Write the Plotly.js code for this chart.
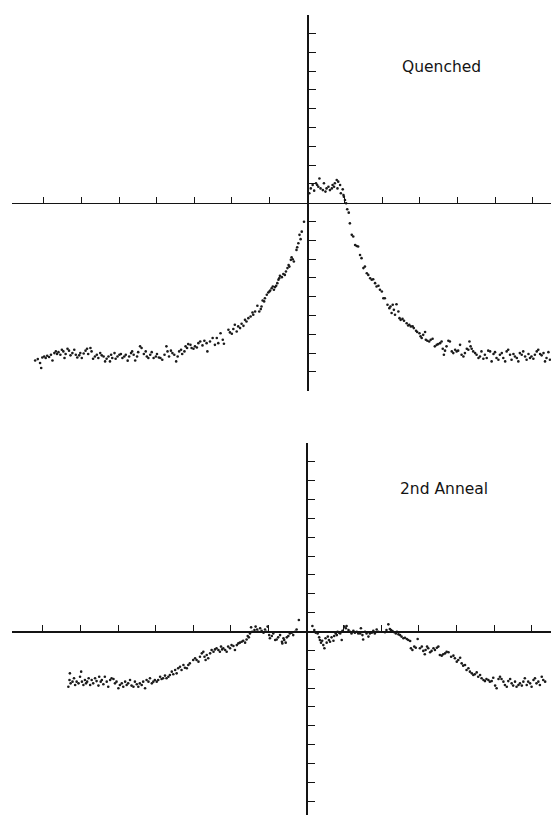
<!DOCTYPE html>
<html><head><meta charset="utf-8">
<script src="https://cdn.plot.ly/plotly-3.0.1.min.js"></script>
<style>html,body{margin:0;padding:0;background:#fff}#chart{width:551px;height:815px}</style>
</head><body><div id="chart"></div>
<script>
// Values in axis-tick units (no numeric labels on the original axes)
const quenchedPoints = [
[-7.23,-8.39],[-7.16,-8.32],[-7.10,-8.53],[-7.07,-8.79],[-7.04,-8.23],[-6.99,-8.18],[-6.95,-8.26],[-6.91,-8.14],[-6.86,-8.21],[-6.81,-8.09],
[-6.77,-8.39],[-6.72,-8.00],[-6.68,-7.91],[-6.65,-8.05],[-6.61,-7.95],[-6.56,-8.09],[-6.52,-7.82],[-6.48,-7.91],[-6.45,-8.26],[-6.42,-8.05],
[-6.37,-7.77],[-6.33,-7.87],[-6.29,-8.12],[-6.24,-8.00],[-6.19,-7.82],[-6.15,-8.09],[-6.11,-8.23],[-6.06,-8.12],[-6.03,-8.00],[-5.99,-8.26],
[-5.94,-8.02],[-5.89,-7.87],[-5.85,-7.77],[-5.82,-8.05],[-5.76,-7.73],[-5.73,-7.91],[-5.69,-8.30],[-5.64,-8.18],[-5.59,-8.09],[-5.55,-8.26],
[-5.50,-8.00],[-5.46,-8.12],[-5.41,-8.18],[-5.37,-8.44],[-5.33,-8.30],[-5.28,-8.18],[-5.24,-8.44],[-5.21,-8.09],[-5.18,-8.26],[-5.12,-8.00],
[-5.09,-8.30],[-5.04,-8.18],[-4.99,-8.09],[-4.95,-8.05],[-4.91,-8.26],[-4.86,-8.18],[-4.82,-8.09],[-4.77,-8.40],[-4.73,-8.18],[-4.68,-8.00],
[-4.65,-7.91],[-4.61,-8.09],[-4.57,-8.39],[-4.52,-8.18],[-4.49,-7.95],[-4.44,-7.64],[-4.40,-7.73],[-4.34,-8.05],[-4.29,-7.91],[-4.26,-8.18],
[-4.22,-8.26],[-4.17,-8.09],[-4.13,-7.95],[-4.08,-8.26],[-4.02,-8.18],[-3.99,-8.05],[-3.94,-8.23],[-3.90,-8.26],[-3.85,-8.35],[-3.79,-8.09],
[-3.74,-7.64],[-3.71,-7.91],[-3.67,-8.18],[-3.62,-7.87],[-3.58,-8.00],[-3.53,-8.09],[-3.48,-8.44],[-3.44,-8.18],[-3.40,-7.91],[-3.35,-7.82],
[-3.32,-8.05],[-3.26,-7.91],[-3.23,-7.64],[-3.19,-7.73],[-3.16,-7.52],[-3.10,-7.56],[-3.07,-7.73],[-3.02,-7.77],[-2.98,-7.64],[-2.93,-7.70],
[-2.89,-7.47],[-2.84,-7.38],[-2.78,-7.59],[-2.73,-7.34],[-2.67,-7.47],[-2.65,-7.91],[-2.58,-7.38],[-2.51,-7.20],[-2.45,-7.56],[-2.40,-7.20],
[-2.36,-7.47],[-2.30,-6.94],[-2.24,-7.29],[-2.21,-7.50],[-2.09,-6.76],[-2.05,-6.90],[-2.00,-6.97],[-1.96,-6.72],[-1.92,-6.49],[-1.87,-6.85],
[-1.83,-6.58],[-1.78,-6.67],[-1.74,-6.44],[-1.69,-6.55],[-1.65,-6.23],[-1.61,-6.32],[-1.56,-6.14],[-1.50,-6.05],[-1.45,-5.84],[-1.43,-5.96],
[-1.38,-5.79],[-1.32,-5.48],[-1.27,-5.79],[-1.23,-5.66],[-1.21,-5.52],[-1.18,-5.20],[-1.14,-5.25],[-1.12,-5.08],[-1.07,-4.90],[-1.03,-4.78],
[-1.00,-4.72],[-0.98,-4.67],[-0.94,-4.55],[-0.91,-4.46],[-0.88,-4.63],[-0.85,-4.49],[-0.82,-4.42],[-0.79,-4.28],[-0.76,-4.10],[-0.74,-4.02],
[-0.72,-3.89],[-0.67,-3.96],[-0.63,-3.79],[-0.59,-3.84],[-0.56,-3.66],[-0.52,-3.48],[-0.49,-3.31],[-0.47,-3.40],[-0.43,-3.04],[-0.41,-2.90],
[-0.38,-3.01],[-0.35,-3.13],[-0.28,-2.51],[-0.26,-2.37],[-0.23,-2.16],[-0.20,-1.71],[-0.17,-1.94],[-0.14,-1.54],[-0.08,-1.01],
[0.06,0.50],[0.10,0.76],[0.15,0.94],[0.19,0.64],[0.24,1.03],[0.27,0.94],[0.30,0.85],[0.33,1.29],[0.36,0.76],[0.42,0.67],
[0.45,1.03],[0.49,0.59],[0.52,0.76],[0.57,0.85],[0.61,0.67],[0.66,0.76],[0.68,0.94],[0.72,0.85],[0.74,1.03],[0.79,1.21],
[0.81,0.76],[0.83,1.12],[0.88,0.94],[0.90,0.50],[0.95,0.71],[0.97,0.41],[0.98,0.32],[1.01,0.14],[1.04,-0.03],[1.07,-0.35],
[1.11,-0.53],[1.14,-1.10],[1.19,-1.71],[1.23,-1.80],[1.28,-2.25],[1.32,-2.30],[1.36,-2.33],[1.41,-2.78],[1.45,-2.95],[1.50,-3.48],
[1.54,-3.40],[1.59,-3.75],[1.63,-3.84],[1.68,-4.02],[1.72,-4.10],[1.76,-4.07],[1.81,-4.28],[1.85,-4.46],[1.90,-4.42],[1.94,-4.63],
[1.99,-4.72],[2.03,-5.08],[2.07,-5.08],[2.14,-5.43],[2.19,-5.61],[2.22,-5.52],[2.25,-5.87],[2.28,-5.43],[2.31,-5.70],[2.34,-5.96],
[2.38,-5.40],[2.43,-5.79],[2.46,-6.14],[2.49,-6.23],[2.54,-6.18],[2.58,-6.28],[2.65,-6.41],[2.69,-6.53],[2.72,-6.49],[2.76,-6.58],
[2.81,-6.58],[2.84,-6.67],[2.90,-6.81],[2.93,-6.88],[2.99,-6.94],[3.02,-7.11],[3.05,-7.20],[3.09,-7.03],[3.14,-6.88],[3.16,-7.29],
[3.20,-7.34],[3.25,-7.38],[3.29,-7.29],[3.34,-7.24],[3.40,-7.64],[3.45,-7.56],[3.49,-7.52],[3.54,-7.47],[3.58,-7.38],[3.61,-7.77],
[3.64,-8.09],[3.67,-7.87],[3.71,-7.64],[3.76,-7.34],[3.80,-7.38],[3.85,-7.91],[3.89,-8.00],[3.94,-7.82],[3.98,-7.91],[4.02,-7.87],
[4.07,-7.56],[4.11,-8.09],[4.16,-8.18],[4.20,-8.00],[4.25,-7.77],[4.29,-7.82],[4.32,-7.38],[4.35,-7.64],[4.38,-7.77],[4.42,-7.91],
[4.47,-8.00],[4.51,-8.09],[4.56,-8.26],[4.60,-8.18],[4.64,-7.91],[4.69,-8.30],[4.73,-8.09],[4.78,-8.26],[4.82,-7.87],[4.87,-7.91],
[4.91,-8.44],[4.96,-8.05],[5.00,-7.95],[5.04,-8.26],[5.09,-8.35],[5.13,-8.09],[5.18,-8.00],[5.22,-8.26],[5.27,-8.44],[5.31,-7.91],
[5.35,-7.82],[5.40,-8.09],[5.44,-8.35],[5.49,-8.05],[5.53,-8.18],[5.58,-8.26],[5.62,-8.44],[5.66,-8.00],[5.71,-8.09],[5.75,-7.91],
[5.80,-8.18],[5.84,-8.35],[5.89,-8.05],[5.93,-8.26],[5.97,-8.18],[6.02,-8.30],[6.06,-8.09],[6.11,-7.91],[6.15,-7.82],[6.20,-8.05],
[6.24,-8.12],[6.29,-8.00],[6.33,-8.44],[6.37,-8.26],[6.42,-7.95],[6.46,-8.35]
];

const annealPoints = [
[-6.32,-2.93],[-6.29,-2.57],[-6.28,-2.22],[-6.26,-2.75],[-6.21,-2.66],[-6.17,-2.48],[-6.14,-2.84],[-6.10,-2.66],[-6.05,-2.75],[-6.01,-2.40],
[-5.98,-2.13],[-5.96,-2.66],[-5.92,-2.84],[-5.88,-2.57],[-5.85,-2.75],[-5.82,-2.66],[-5.78,-2.48],[-5.74,-2.84],[-5.70,-2.57],[-5.66,-2.75],
[-5.61,-2.48],[-5.57,-2.63],[-5.52,-2.87],[-5.50,-2.40],[-5.46,-2.66],[-5.43,-2.57],[-5.39,-2.80],[-5.35,-2.40],[-5.30,-2.66],[-5.26,-2.93],
[-5.21,-2.57],[-5.17,-2.48],[-5.12,-2.52],[-5.08,-2.75],[-5.04,-2.66],[-4.99,-3.01],[-4.95,-2.84],[-4.90,-2.75],[-4.86,-2.93],[-4.81,-2.66],
[-4.77,-2.84],[-4.73,-2.75],[-4.68,-2.57],[-4.64,-2.87],[-4.59,-2.93],[-4.55,-2.66],[-4.50,-2.80],[-4.46,-2.93],[-4.42,-2.75],[-4.37,-2.84],
[-4.33,-2.66],[-4.28,-3.01],[-4.24,-2.57],[-4.19,-2.66],[-4.15,-2.48],[-4.10,-2.75],[-4.06,-2.66],[-4.02,-2.57],[-3.97,-2.66],[-3.93,-2.57],
[-3.88,-2.40],[-3.84,-2.52],[-3.80,-2.48],[-3.75,-2.34],[-3.71,-2.48],[-3.66,-2.40],[-3.62,-2.31],[-3.57,-2.13],[-3.53,-2.27],[-3.48,-2.04],
[-3.44,-2.22],[-3.40,-1.95],[-3.35,-1.87],[-3.31,-2.04],[-3.26,-1.78],[-3.22,-1.92],[-3.17,-1.95],[-3.13,-1.78],[-3.09,-1.69],[-3.00,-1.51],
[-2.95,-1.42],[-2.91,-1.51],[-2.86,-1.60],[-2.82,-1.34],[-2.77,-1.16],[-2.73,-1.07],[-2.70,-1.34],[-2.67,-1.51],[-2.64,-1.25],[-2.60,-1.42],
[-2.55,-1.16],[-2.51,-0.98],[-2.46,-1.07],[-2.42,-0.95],[-2.38,-0.89],[-2.33,-0.98],[-2.29,-1.07],[-2.26,-0.80],[-2.23,-0.95],[-2.20,-0.89],
[-2.15,-0.98],[-2.11,-1.07],[-2.07,-0.80],[-2.02,-0.89],[-1.98,-0.72],[-1.93,-0.77],[-1.89,-0.98],[-1.84,-0.72],[-1.80,-0.63],[-1.76,-0.59],
[-1.71,-0.54],[-1.67,-0.49],[-1.62,-0.59],[-1.58,-0.42],[-1.55,-0.24],[-1.52,-0.31],[-1.49,-0.10],[-1.46,0.22],[-1.43,-0.01],[-1.37,0.08],
[-1.34,0.26],[-1.30,0.11],[-1.27,-0.01],[-1.22,0.17],[-1.18,0.04],[-1.13,-0.06],[-1.09,0.11],[-1.05,-0.01],[-1.02,0.26],[-0.98,-0.19],
[-0.96,-0.36],[-0.91,-0.24],[-0.87,-0.10],[-0.82,-0.45],[-0.78,-0.42],[-0.74,-0.31],[-0.69,-0.19],[-0.64,-0.54],[-0.63,-0.63],[-0.60,-0.36],
[-0.58,-0.45],[-0.54,-0.59],[-0.51,-0.31],[-0.47,-0.24],[-0.43,-0.10],[-0.38,-0.06],[-0.34,-0.19],[-0.29,-0.01],[-0.25,0.11],[-0.19,0.61],
[0.17,0.29],[0.22,0.08],[0.26,-0.06],[0.31,-0.10],[0.35,-0.31],[0.37,-0.45],[0.40,-0.59],[0.43,-0.49],[0.46,-0.72],[0.49,-0.89],
[0.52,-0.36],[0.55,-0.59],[0.58,-0.27],[0.61,-0.45],[0.64,-0.54],[0.68,-0.31],[0.73,-0.49],[0.75,-0.24],[0.79,-0.10],[0.82,-0.19],
[0.84,-0.01],[0.88,-0.06],[0.91,-0.10],[0.95,-0.45],[0.97,0.04],[1.02,0.26],[1.06,0.17],[1.08,0.29],[1.13,0.08],[1.17,-0.01],
[1.21,-0.10],[1.26,0.04],[1.30,-0.06],[1.35,-0.01],[1.39,-0.10],[1.44,-0.10],[1.46,0.17],[1.50,-0.19],[1.52,-0.42],[1.57,-0.01],
[1.61,-0.10],[1.66,-0.27],[1.70,-0.10],[1.75,-0.06],[1.79,0.04],[1.83,-0.10],[1.88,0.11],[1.92,-0.01],[2.10,-0.04],[2.14,0.08],
[2.19,0.38],[2.23,0.13],[2.26,0.08],[2.30,0.03],[2.35,-0.04],[2.39,-0.10],[2.42,-0.01],[2.46,-0.15],[2.50,-0.19],[2.54,-0.27],
[2.59,-0.36],[2.63,-0.33],[2.68,-0.40],[2.72,-0.45],[2.77,-0.50],[2.79,-0.89],[2.83,-0.98],[2.88,-0.80],[2.92,-0.86],[2.97,-0.40],
[3.03,-0.89],[3.08,-0.80],[3.12,-1.03],[3.16,-1.21],[3.18,-0.98],[3.22,-0.80],[3.25,-0.89],[3.30,-1.10],[3.34,-1.03],[3.39,-0.89],
[3.43,-0.98],[3.48,-0.86],[3.52,-0.80],[3.56,-1.25],[3.61,-1.28],[3.65,-1.21],[3.70,-1.16],[3.74,-1.07],[3.79,-1.10],[3.86,-1.34],
[3.92,-1.28],[3.96,-1.42],[4.01,-1.60],[4.05,-1.51],[4.10,-1.39],[4.14,-1.69],[4.18,-1.81],[4.23,-1.78],[4.27,-2.04],[4.32,-1.95],
[4.36,-2.13],[4.41,-2.22],[4.45,-2.31],[4.49,-2.27],[4.54,-2.17],[4.58,-2.40],[4.63,-2.31],[4.67,-2.48],[4.72,-2.57],[4.76,-2.63],
[4.80,-2.52],[4.85,-2.57],[4.89,-2.66],[4.94,-2.63],[4.98,-2.45],[5.03,-2.87],[5.07,-3.01],[5.12,-2.52],[5.16,-2.40],[5.20,-2.52],
[5.25,-2.66],[5.29,-2.84],[5.34,-2.93],[5.38,-2.63],[5.43,-2.52],[5.47,-2.75],[5.51,-2.87],[5.56,-2.66],[5.60,-2.93],[5.65,-2.84],
[5.69,-2.75],[5.74,-2.87],[5.78,-2.66],[5.82,-2.48],[5.87,-2.84],[5.91,-2.66],[5.96,-2.75],[6.00,-2.93],[6.05,-2.57],[6.09,-2.48],
[6.13,-2.75],[6.18,-2.66],[6.22,-2.84],[6.27,-2.40],[6.31,-2.57],[6.36,-2.66]
];

const xTickVals = [-7,-6,-5,-4,-3,-2,-1,1,2,3,4,5,6];
const yTickVals = [-10,-9,-8,-7,-6,-5,-4,-3,-2,-1,1,2,3,4,5,6,7,8,9,10];
const panelLabels = ["Quenched", "2nd Anneal"];

const ink = '#141414';
function xAxis(domain, range, pos) {
  return {domain, range, anchor:'free', position:pos, showline:true, linecolor:ink, linewidth:1.6,
    ticks:'inside', ticklen:6, tickwidth:1, tickcolor:ink, tickmode:'array', tickvals:xTickVals,
    showticklabels:false, showgrid:false, zeroline:false, fixedrange:true};
}
function yAxis(domain, range, pos) {
  return {domain, range, anchor:'free', position:pos, showline:true, linecolor:ink, linewidth:1.6,
    ticks:'inside', ticklen:7, tickwidth:1, tickcolor:ink, tickmode:'array', tickvals:yTickVals,
    showticklabels:false, showgrid:false, zeroline:false, fixedrange:true};
}
const mk = {size:2.6, color:'#1a1a1a'};
const traces = [
  {type:'scatter', mode:'markers', x:quenchedPoints.map(p=>p[0]), y:quenchedPoints.map(p=>p[1]),
   xaxis:'x', yaxis:'y', marker:mk, hoverinfo:'skip', cliponaxis:false},
  {type:'scatter', mode:'markers', x:annealPoints.map(p=>p[0]), y:annealPoints.map(p=>p[1]),
   xaxis:'x2', yaxis:'y2', marker:mk, hoverinfo:'skip', cliponaxis:false}
];
const layout = {
  width:551, height:815, autosize:false, showlegend:false,
  margin:{l:0, r:0, t:0, b:0, pad:0},
  paper_bgcolor:'#fff', plot_bgcolor:'rgba(0,0,0,0)',
  xaxis: xAxis([0.0218, 1], [-7.846, 6.489], 0.7513),
  yaxis: yAxis([0.5206, 0.9820], [-10, 10], 0.5572),
  xaxis2: xAxis([0.0218, 1], [-7.819, 6.516], 0.2252),
  yaxis2: yAxis([0, 0.4564], [-9.735, 10], 0.5554),
  annotations: [
    {text:panelLabels[0], xref:'paper', yref:'paper', x:400/551, y:1-67/815, xanchor:'left', yanchor:'middle',
     showarrow:false, font:{family:'DejaVu Sans', size:15.5, color:ink}},
    {text:panelLabels[1], xref:'paper', yref:'paper', x:398/551, y:1-489/815, xanchor:'left', yanchor:'middle',
     showarrow:false, font:{family:'DejaVu Sans', size:15.5, color:ink}}
  ]
};
Plotly.newPlot('chart', traces, layout, {staticPlot:true, displayModeBar:false});
</script>
</body></html>
